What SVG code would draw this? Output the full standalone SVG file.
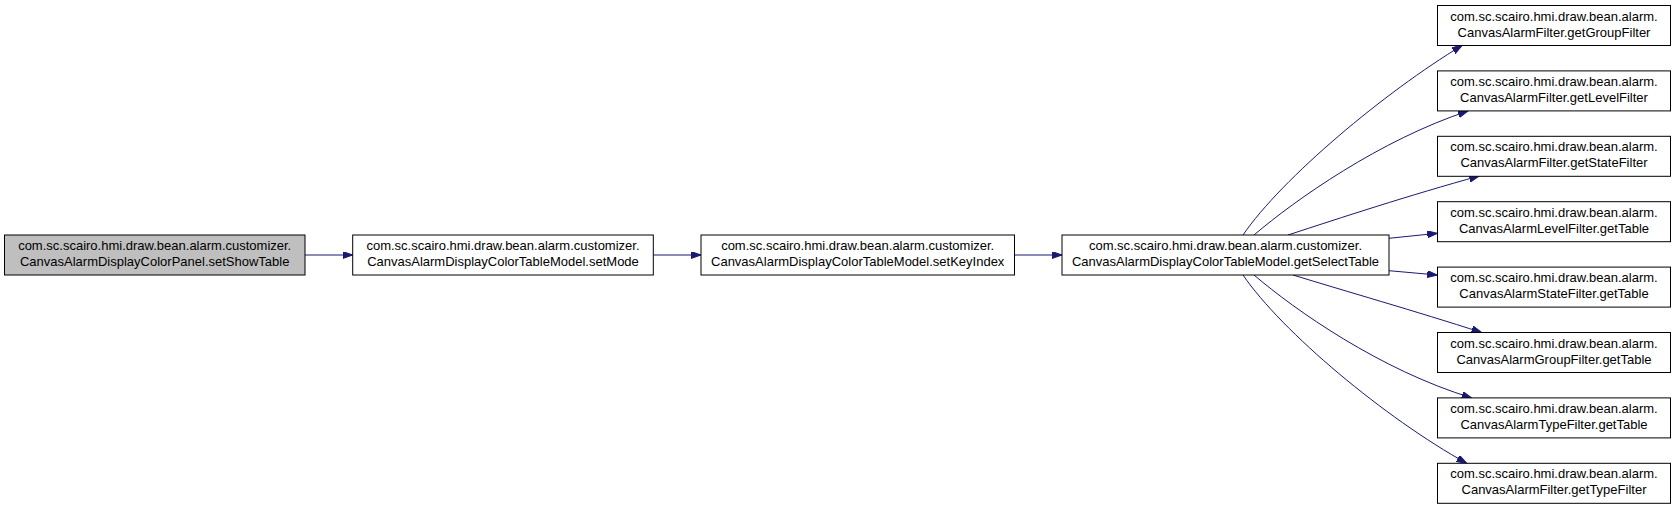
<svg xmlns="http://www.w3.org/2000/svg" width="1675" height="509" viewBox="0 0 1675 509">
<style>
.n rect{fill:#ffffff;stroke:#000000;stroke-width:1}
.n.start rect{fill:#bfbfbf}
.n text{font-family:"Liberation Sans",Arial,Helvetica,sans-serif;font-size:13px;fill:#000000;text-anchor:middle}
.e path{fill:none;stroke:#191970;stroke-width:1;marker-end:url(#ah)}
</style>
<defs>
<marker id="ah" markerUnits="userSpaceOnUse" markerWidth="11" markerHeight="8" refX="10" refY="3.5" orient="auto">
<path d="M0,0 L10,3.5 L0,7 z" fill="#191970" stroke="#191970" stroke-width="1"/>
</marker>
</defs>
<rect x="0" y="0" width="1675" height="509" fill="#ffffff"/>
<g id="connectors" class="e">
<path d="M305,255 L352.7,255"/>
<path d="M653.3,255 L701,255"/>
<path d="M1014.5,255 L1062,255"/>
<path d="M1243,235 C1282,178 1385,92 1462,45.5"/>
<path d="M1254,235 C1295,200 1380,140 1468,111"/>
<path d="M1288,235 C1340,218 1410,195 1479.3,176"/>
<path d="M1389,238.3 L1437.3,233.3"/>
<path d="M1389,270.7 L1437.3,275"/>
<path d="M1293,275 C1345,291 1415,311 1481.7,332.5"/>
<path d="M1254,275 C1295,310 1380,370 1471.7,397.9"/>
<path d="M1243,275 C1282,332 1385,418 1466.7,463.3"/>
</g>
<g id="node1" class="n start">
<rect x="4.5" y="235" width="300.5" height="40"/>
<text x="154.7" y="250">com.sc.scairo.hmi.draw.bean.alarm.customizer.</text>
<text x="154.7" y="266">CanvasAlarmDisplayColorPanel.setShowTable</text>
</g>
<g id="node2" class="n">
<rect x="352.7" y="235" width="300.6" height="40"/>
<text x="503" y="250">com.sc.scairo.hmi.draw.bean.alarm.customizer.</text>
<text x="503" y="266">CanvasAlarmDisplayColorTableModel.setMode</text>
</g>
<g id="node3" class="n">
<rect x="701" y="235" width="313.5" height="40"/>
<text x="857.7" y="250">com.sc.scairo.hmi.draw.bean.alarm.customizer.</text>
<text x="857.7" y="266">CanvasAlarmDisplayColorTableModel.setKeyIndex</text>
</g>
<g id="node4" class="n">
<rect x="1062" y="235" width="327" height="40"/>
<text x="1225.5" y="250">com.sc.scairo.hmi.draw.bean.alarm.customizer.</text>
<text x="1225.5" y="266">CanvasAlarmDisplayColorTableModel.getSelectTable</text>
</g>
<g id="node5" class="n">
<rect x="1437.5" y="5.5" width="233" height="40"/>
<text x="1554" y="20.5">com.sc.scairo.hmi.draw.bean.alarm.</text>
<text x="1554" y="36.5">CanvasAlarmFilter.getGroupFilter</text>
</g>
<g id="node6" class="n">
<rect x="1437.5" y="70.9" width="233" height="40"/>
<text x="1554" y="85.9">com.sc.scairo.hmi.draw.bean.alarm.</text>
<text x="1554" y="101.9">CanvasAlarmFilter.getLevelFilter</text>
</g>
<g id="node7" class="n">
<rect x="1437.5" y="136.3" width="233" height="40"/>
<text x="1554" y="151.3">com.sc.scairo.hmi.draw.bean.alarm.</text>
<text x="1554" y="167.3">CanvasAlarmFilter.getStateFilter</text>
</g>
<g id="node8" class="n">
<rect x="1437.5" y="201.7" width="233" height="40"/>
<text x="1554" y="216.7">com.sc.scairo.hmi.draw.bean.alarm.</text>
<text x="1554" y="232.7">CanvasAlarmLevelFilter.getTable</text>
</g>
<g id="node9" class="n">
<rect x="1437.5" y="267.1" width="233" height="40"/>
<text x="1554" y="282.1">com.sc.scairo.hmi.draw.bean.alarm.</text>
<text x="1554" y="298.1">CanvasAlarmStateFilter.getTable</text>
</g>
<g id="node10" class="n">
<rect x="1437.5" y="332.5" width="233" height="40"/>
<text x="1554" y="347.5">com.sc.scairo.hmi.draw.bean.alarm.</text>
<text x="1554" y="363.5">CanvasAlarmGroupFilter.getTable</text>
</g>
<g id="node11" class="n">
<rect x="1437.5" y="397.9" width="233" height="40"/>
<text x="1554" y="412.9">com.sc.scairo.hmi.draw.bean.alarm.</text>
<text x="1554" y="428.9">CanvasAlarmTypeFilter.getTable</text>
</g>
<g id="node12" class="n">
<rect x="1437.5" y="463.3" width="233" height="40"/>
<text x="1554" y="478.3">com.sc.scairo.hmi.draw.bean.alarm.</text>
<text x="1554" y="494.3">CanvasAlarmFilter.getTypeFilter</text>
</g>
</svg>
